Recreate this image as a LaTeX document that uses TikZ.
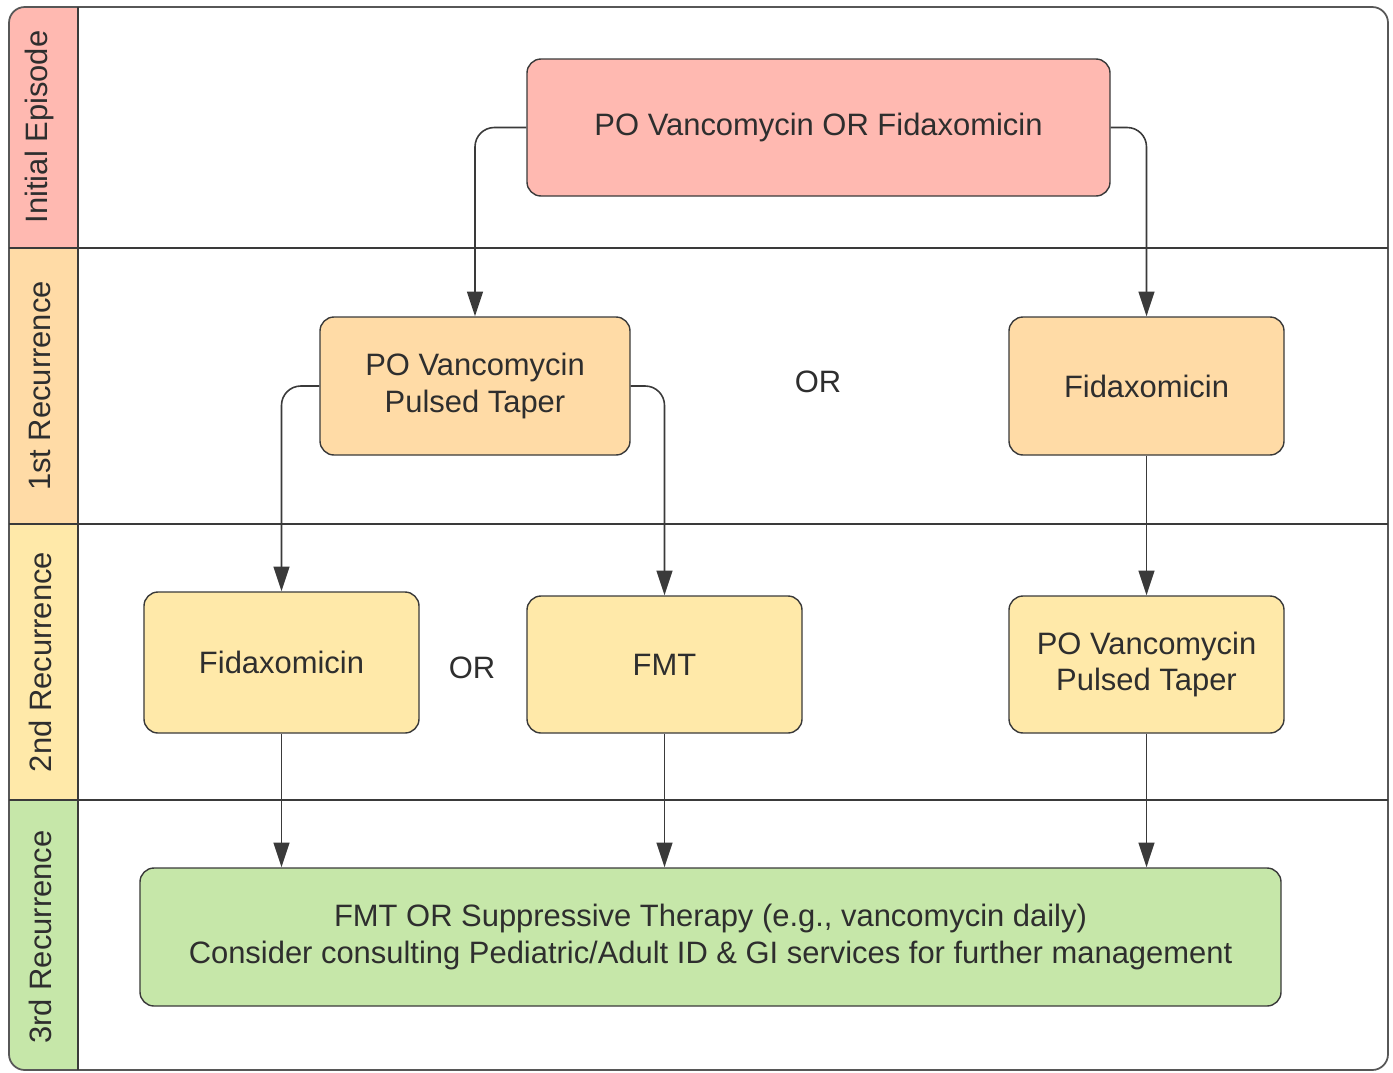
\documentclass[tikz,border=0pt]{standalone}
\usepackage{fontspec}
\setmainfont{Liberation Sans}
\usetikzlibrary{shapes,arrows.meta}

\definecolor{epired}{HTML}{FFB9B1}
\definecolor{recorange}{HTML}{FFDBA6}
\definecolor{recyellow}{HTML}{FFE9A9}
\definecolor{recgreen}{HTML}{C6E7A9}
\definecolor{linegray}{HTML}{3A3A3A}
\definecolor{textgray}{HTML}{2E2E2E}

\begin{document}
\begin{tikzpicture}[x=0.2mm,y=-0.2mm]
        % swimlane chart, coordinates in pixels
        \tikzstyle{block} = [draw=linegray,line width=0.8pt,rounded corners=8pt,inner sep=0pt,align=center,text=textgray,font=\fontsize{17.6}{21}\selectfont];
        \tikzstyle{link} = [draw=linegray,line width=0.9pt,rounded corners=11pt,-{Triangle[width=9pt,length=14pt]}];
        \tikzstyle{lanelabel} = [rotate=90,text=textgray,font=\fontsize{17.6}{21}\selectfont];

        \useasboundingbox (0,0) rectangle (1393,1072);

        \begin{scope}
            \clip[rounded corners=9pt] (9,7) rectangle (1388,1070);
            \fill[epired] (9,7) rectangle (78,248);
            \fill[recorange] (9,248) rectangle (78,524);
            \fill[recyellow] (9,524) rectangle (78,800);
            \fill[recgreen] (9,800) rectangle (78,1070);
        \end{scope}
        \draw[linegray!85,line width=1pt,rounded corners=9pt] (9,7) rectangle (1388,1070);
        \draw[linegray,line width=0.9pt] (78,7) -- (78,1070);
        \draw[linegray,line width=0.9pt] (9,248) -- (1388,248);
        \draw[linegray,line width=0.9pt] (9,524) -- (1388,524);
        \draw[linegray,line width=0.9pt] (9,800) -- (1388,800);

        \node[lanelabel] (initial) at (40,127) {Initial Episode};
        \node[lanelabel] (first) at (40,386) {1st Recurrence};
        \node[lanelabel] (second) at (40,662) {2nd Recurrence};
        \node[lanelabel] (third) at (40,937) {3rd Recurrence};

        \node[block,fill=epired,minimum width=116.6mm,minimum height=27.4mm] (start) at (818.5,127.5) {PO Vancomycin OR Fidaxomicin};

        \node[block,fill=recorange,minimum width=62mm,minimum height=27.6mm] (vancpulse) at (475,386) {PO Vancomycin\\Pulsed Taper};
        \node[text=textgray,font=\fontsize{17.6}{21}\selectfont] (orfirst) at (818,382) {OR};
        \node[block,fill=recorange,minimum width=55mm,minimum height=27.6mm] (fidafirst) at (1146.5,386) {Fidaxomicin};

        \node[block,fill=recyellow,minimum width=55mm,minimum height=28.2mm] (fidasecond) at (281.5,662.5) {Fidaxomicin};
        \node[text=textgray,font=\fontsize{17.6}{21}\selectfont] (orsecond) at (472,668) {OR};
        \node[block,fill=recyellow,minimum width=55mm,minimum height=27.4mm] (fmt) at (664.5,664.5) {FMT};
        \node[block,fill=recyellow,minimum width=55mm,minimum height=27.4mm] (vancsecond) at (1146.5,664.5) {PO Vancomycin\\Pulsed Taper};

        \node[block,fill=recgreen,minimum width=228.2mm,minimum height=27.6mm] (suppress) at (710.5,937) {FMT OR Suppressive Therapy (e.g., vancomycin daily)\\Consider consulting Pediatric/Adult ID \& GI services for further management};

        \draw[link] (start.west) -| (vancpulse.north);
        \draw[link] (start.east) -| (fidafirst.north);
        \draw[link] (vancpulse.west) -| (fidasecond.north);
        \draw[link] (vancpulse.east) -| (fmt.north);
        \draw[link] (fidafirst.south) -- (vancsecond.north);

        \draw[link] (fidasecond.south) -- (fidasecond.south |- suppress.north);
        \draw[link] (fmt.south) -- (fmt.south |- suppress.north);
        \draw[link] (vancsecond.south) -- (vancsecond.south |- suppress.north);

    \end{tikzpicture}
\end{document}
